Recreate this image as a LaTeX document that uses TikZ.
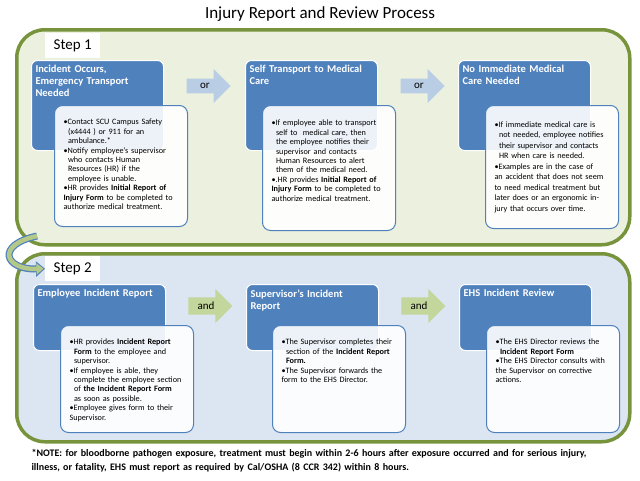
\documentclass[tikz,border=0pt]{standalone}
\usepackage{fontspec}
\setmainfont{Carlito}
\usetikzlibrary{shapes.arrows}
\usetikzlibrary{arrows.meta}
\usetikzlibrary{positioning}
\definecolor{headblue}{HTML}{4F81BD}
\definecolor{panelgreen}{HTML}{77933C}
\definecolor{stepbg}{HTML}{EBF1DE}
\definecolor{stepbgb}{HTML}{DCE6F2}
\definecolor{orarrow}{HTML}{B9CDE5}
\definecolor{andarrow}{HTML}{C3D69B}
\newcommand{\bitem}{\par\hyphenpenalty=10000\relax
  \hangindent=4.5pt\hangafter=1\noindent\textbullet}

\begin{document}
\begin{tikzpicture}[x=1pt,y=-1pt,
  panel/.style={
    draw=panelgreen,line width=3.5pt,rounded corners=28pt,
    fill=#1,anchor=north west,
    minimum width=613pt,inner sep=0pt},
  steplab/.style={
    fill=white,anchor=north west,minimum width=55pt,minimum height=25pt,
    font=\fontsize{15}{16}\selectfont},
  head/.style={
    draw=white,line width=1pt,fill=headblue,rounded corners=6pt,
    anchor=north west,minimum width=132pt,minimum height=90pt},
  headtxt/.style={
    text=white,anchor=north west,text width=124pt,align=left,
    font=\bfseries\fontsize{10.5}{12}\selectfont},
  card/.style={
    draw=headblue,line width=1pt,fill=white,fill opacity=0.9,
    rounded corners=8pt,anchor=north west,minimum width=133pt},
  cardtxt/.style={
    anchor=north west,text width=112pt,align=left,
    font=\fontsize{8.2}{9.4}\selectfont},
  link/.style={
    single arrow,fill=#1,minimum height=44pt,minimum width=34pt,
    single arrow head extend=5pt,single arrow head indent=0pt,
    inner sep=1pt,font=\fontsize{11}{12}\selectfont},
]
  \useasboundingbox (0,0) rectangle (640,480);

  \node[font=\fontsize{17}{20}\selectfont] (title) at (320,14)
    {Injury Report and Review Process};

  % Step 1
  \node[panel=stepbg,minimum height=215pt] (panelA) at (15,28) {};
  \node[steplab] (stepA) at (45,33) {Step 1};

  \node[head] (hA1) at (31,60) {};
  \node[headtxt] (tA1) at (32,62)
    {Incident Occurs,\\Emergency Transport\\Needed};
  \node[card,minimum height=121pt] (cA1) at (54,105) {};
  \node[cardtxt] (bA1) at (60,112)
    {\bitem Contact SCU Campus Safety (x4444 ) or 911 for an ambulance.*
     \bitem Notify employee's supervisor who contacts Human Resources (HR)
     if the employee is unable.
     \bitem HR provides \textbf{Initial Report of Injury Form} to be
     completed to authorize medical treatment.};

  \node[head] (hA2) at (245,60) {};
  \node[headtxt] (tA2) at (246,62) {Self Transport to Medical\\Care};
  \node[card,minimum height=125pt] (cA2) at (262,105) {};
  \node[cardtxt] (bA2) at (268,113)
    {\bitem If employee able to transport self to\ \ medical care, then the
     employee notifies their supervisor and contacts Human Resources to
     alert them of the medical need.
     \bitem .HR provides \textbf{Initial Report of Injury Form} to be
     completed to authorize medical treatment.};

  \node[head] (hA3) at (458,60) {};
  \node[headtxt] (tA3) at (459,62) {No Immediate Medical\\Care Needed};
  \node[card,minimum height=123pt] (cA3) at (485,105) {};
  \node[cardtxt,font=\fontsize{8.2}{10.5}\selectfont]
    (bA3) at (491,113)
    {\bitem If immediate medical care is not needed, employee notifies
     their supervisor and contacts HR when care is needed.
     \bitem Examples are in the case of an accident that does not seem to
     need medical treatment but later does or an ergonomic injury that
     occurs over time.};

  \node[link=orarrow] (orA) at (205,86) {or\hspace{6pt}};
  \node[link=orarrow] (orB) at (419,86) {or\hspace{6pt}};

  % Step 2
  \node[panel=stepbgb,minimum height=188pt] (panelB) at (15,252) {};
  \node[steplab] (stepB) at (45,256) {Step 2};

  \node[head,minimum height=66pt] (hB1) at (33,284) {};
  \node[headtxt] (tB1) at (34,286) {Employee Incident Report};
  \node[card,minimum height=107pt] (cB1) at (60,325) {};
  \node[cardtxt] (bB1) at (66,332)
    {\bitem HR provides \textbf{Incident Report Form} to the employee and
     supervisor.
     \bitem If employee is able, they complete the employee section of
     \textbf{the Incident Report Form} as soon as possible.
     \bitem Employee gives form to their Supervisor.};

  \node[head,minimum height=66pt] (hB2) at (246,284) {};
  \node[headtxt] (tB2) at (247,286) {Supervisor's Incident\\Report};
  \node[card,minimum height=107pt] (cB2) at (272,325) {};
  \node[cardtxt] (bB2) at (278,332)
    {\bitem The Supervisor completes their section of the \textbf{Incident
     Report\ \ Form.}
     \bitem The Supervisor forwards the form to the EHS Director.};

  \node[head,minimum height=66pt] (hB3) at (459,284) {};
  \node[headtxt] (tB3) at (460,286) {EHS Incident Review};
  \node[card,minimum height=107pt] (cB3) at (486,325) {};
  \node[cardtxt] (bB3) at (492,332)
    {\bitem The EHS Director reviews the \textbf{Incident Report Form}
     \bitem The EHS Director consults with the Supervisor on corrective
     actions.};

  \node[link=andarrow] (andA) at (206,306) {and\hspace{4pt}};
  \node[link=andarrow] (andB) at (419,306) {and\hspace{4pt}};

  % step link
  \coordinate (turn) at (37,236);
  \draw[headblue,line width=7pt,-{Triangle[length=9pt,width=15pt]}]
    (turn) .. controls (-5,245) and (5,270) .. (stepB.west);
  \draw[andarrow!80!panelgreen,line width=4.5pt,-{Triangle[length=7pt,width=11pt]}]
    (turn) .. controls (-5,245) and (5,270) .. ([xshift=-1.5pt]stepB.west);

  \node[anchor=north west,text width=600pt,align=left,
    font=\bfseries\fontsize{10}{13.5}\selectfont] (note) at (28,446)
    {*NOTE: for bloodborne pathogen exposure, treatment must begin within
     2-6 hours after exposure occurred and for serious injury,\\illness, or
     fatality, EHS must report as required by Cal/OSHA (8 CCR 342) within
     8 hours.};
\end{tikzpicture}
\end{document}
